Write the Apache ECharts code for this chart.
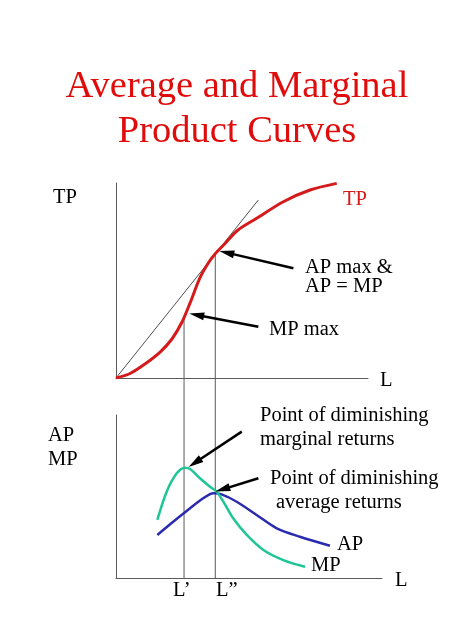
<!DOCTYPE html>
<html>
<head>
<meta charset="utf-8">
<title>Average and Marginal Product Curves</title>
<script src="https://cdn.jsdelivr.net/npm/echarts@6/dist/echarts.min.js"></script>
<style>
  html, body { margin: 0; padding: 0; background: #fff; }
  #chart { width: 474px; height: 631px; }
</style>
</head>
<body>
<div id="chart"></div>
<script>
// labour points where MP and AP peak
var L1 = 27;
var L2 = 39.4;

// total product curve (top panel), [L, TP]
var tpData = [
  [0, 0], [5.6, 2.3], [11.5, 7.2], [17.5, 13.3], [22.2, 20.0], [26.2, 28.7],
  [29.4, 38.5], [33.3, 51.3], [36.5, 58.7], [39.3, 63.6], [43.3, 69.0],
  [48.4, 75.9], [55.8, 81.9], [66.4, 90.4], [77, 96.4], [87.6, 99.8]
];
// ray from origin tangent to TP at L''
var rayData = [[0, 0], [56.5, 91.3]];

// marginal and average product (bottom panel), [L, value]
var mpData = [
  [16.4, 35.6], [20.1, 52.9], [24.1, 64.2], [27.4, 67.7], [29.4, 66.9],
  [33.3, 61.2], [37.3, 56.0], [40.0, 52.9], [42.6, 46.8], [46.5, 36.6],
  [51.9, 26.4], [58.5, 17.2], [66.4, 11.0], [75.0, 6.9]
];
var apData = [
  [16.4, 26.4], [22.7, 34.5], [29.4, 42.8], [34.6, 48.9], [38.6, 52.0],
  [41.9, 51.3], [47.9, 46.8], [55.8, 38.7], [63.8, 30.5], [73.0, 25.3], [84.9, 19.8]
];

// annotation arrows, [tail, head]
var topArrows = [
  [[70.4, 56.3], [43.9, 64.3]],
  [[56.5, 26.3], [32.0, 32.3]]
];
var bottomArrows = [
  [[49.9, 89.8], [31.3, 70.7]],
  [[56.5, 61.2], [42.3, 54.4]]
];

var FONT = '"Liberation Serif", "Times New Roman", serif';
var AXIS = '#5a5a5a';

// panel geometry
var topGrid = { left: 116, top: 183, width: 252, height: 195 };
var botGrid = { left: 116, top: 415, width: 266, height: 163 };
var xPerPx = 100 / topGrid.width;
var botXMax = botGrid.width * xPerPx;
// bottom-panel y value at the top panel's baseline (guide lines run across the gap)
var gapY = (botGrid.top + botGrid.height - (topGrid.top + topGrid.height)) / botGrid.height * 100;

function tpAt(x) {
  for (var i = 1; i < tpData.length; i++) {
    if (tpData[i][0] >= x) {
      var a = tpData[i - 1], b = tpData[i];
      return a[1] + (b[1] - a[1]) * (x - a[0]) / (b[0] - a[0]);
    }
  }
  return tpData[tpData.length - 1][1];
}

function arrowLines(list) {
  return list.map(function (a) {
    return [
      { coord: a[0], symbol: 'none' },
      { coord: a[1], symbol: 'triangle', symbolSize: [8, 15] }
    ];
  });
}

function guide(xAxisIndex, yAxisIndex, pts) {
  return {
    type: 'line', xAxisIndex: xAxisIndex, yAxisIndex: yAxisIndex,
    data: pts, symbol: 'none', silent: true, clip: false, z: 1,
    lineStyle: { color: AXIS, width: 1 }
  };
}

function label(text, x, y, size, color, align) {
  return {
    type: 'text', x: x, y: y, silent: true,
    style: {
      text: text, font: size + 'px ' + FONT, fill: color || '#000',
      align: align || 'left', verticalAlign: 'middle'
    }
  };
}

var axisCommon = {
  type: 'value', min: 0,
  axisLine: { show: true, lineStyle: { color: AXIS, width: 1 } },
  axisTick: { show: false }, axisLabel: { show: false }, splitLine: { show: false }
};

var option = {
  backgroundColor: '#fff',
  animation: false,
  grid: [topGrid, botGrid],
  xAxis: [
    Object.assign({}, axisCommon, { gridIndex: 0, max: 100 }),
    Object.assign({}, axisCommon, { gridIndex: 1, max: botXMax })
  ],
  yAxis: [
    Object.assign({}, axisCommon, { gridIndex: 0, max: 100 }),
    Object.assign({}, axisCommon, { gridIndex: 1, max: 100 })
  ],
  series: [
    // vertical guides at L' and L''
    guide(0, 0, [[L1, tpAt(L1)], [L1, 0]]),
    guide(0, 0, [[L2, tpAt(L2)], [L2, 0]]),
    guide(1, 1, [[L1, 0], [L1, gapY]]),
    guide(1, 1, [[L2, 0], [L2, gapY]]),
    {
      type: 'line', xAxisIndex: 0, yAxisIndex: 0, data: rayData,
      symbol: 'none', silent: true, z: 2,
      lineStyle: { color: '#222', width: 0.8 }
    },
    {
      type: 'line', name: 'TP', xAxisIndex: 0, yAxisIndex: 0, data: tpData,
      smooth: 0.3, symbol: 'none', z: 3,
      lineStyle: { color: '#d41a1a', width: 3 },
      markLine: {
        silent: true, animation: false, label: { show: false },
        lineStyle: { color: '#000', width: 2.5, type: 'solid' },
        data: arrowLines(topArrows)
      }
    },
    {
      type: 'line', name: 'AP', xAxisIndex: 1, yAxisIndex: 1, data: apData,
      smooth: 0.3, symbol: 'none', z: 3,
      lineStyle: { color: '#2b2bb0', width: 2.5 }
    },
    {
      type: 'line', name: 'MP', xAxisIndex: 1, yAxisIndex: 1, data: mpData,
      smooth: 0.3, symbol: 'none', z: 4,
      lineStyle: { color: '#1fc497', width: 2.5 },
      markLine: {
        silent: true, animation: false, label: { show: false },
        lineStyle: { color: '#000', width: 2.5, type: 'solid' },
        data: arrowLines(bottomArrows)
      }
    }
  ],
  graphic: [
    label('Average and Marginal', 237, 87, 38.5, '#e00c0c', 'center'),
    label('Product Curves', 237, 132, 38.5, '#e00c0c', 'center'),
    label('TP', 53, 198, 20.5),
    label('TP', 343, 200, 20.5, '#d41a1a'),
    label('AP max &', 305, 268, 20.5),
    label('AP = MP', 305, 287, 20.5),
    label('MP max', 269, 330, 20.5),
    label('L', 380, 381, 20.5),
    label('AP', 48, 436, 20.5),
    label('MP', 48, 460, 20.5),
    label('Point of diminishing', 260, 416, 20.5),
    label('marginal returns', 260, 440, 20.5),
    label('Point of diminishing', 270, 479, 20.5),
    label('average returns', 276, 503, 20.5),
    label('AP', 337, 545, 20.5),
    label('MP', 311, 566, 20.5),
    label('L\u2019', 173, 591, 20.5),
    label('L\u201D', 216, 591, 20.5),
    label('L', 395, 581, 20.5)
  ]
};

var chart = echarts.init(document.getElementById('chart'));
chart.setOption(option);
</script>
</body>
</html>
